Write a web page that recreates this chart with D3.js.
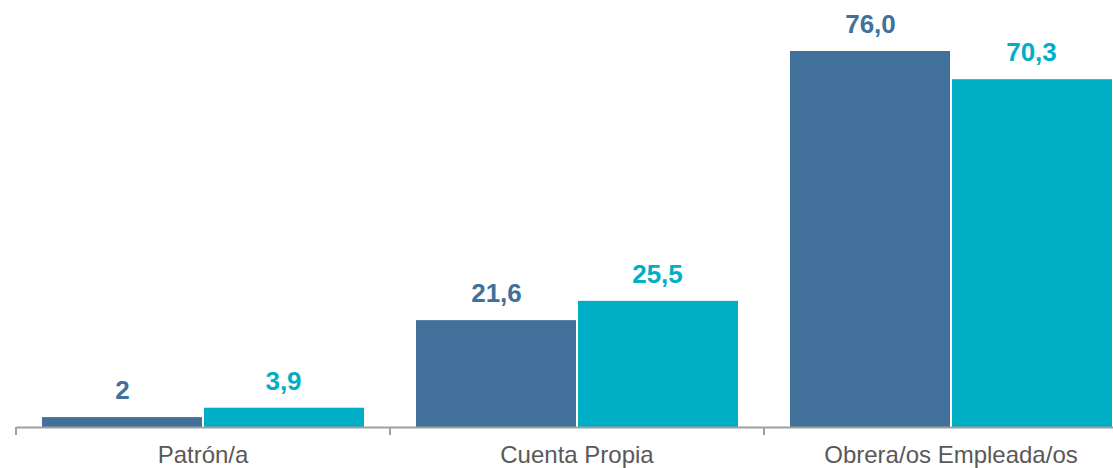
<!DOCTYPE html>
<html>
<head>
<meta charset="utf-8">
<script src="https://cdn.jsdelivr.net/npm/d3@7"></script>
<style>
  html, body { margin: 0; padding: 0; background: #fff; }
  svg { display: block; }
</style>
</head>
<body>
<svg id="chart" width="1113" height="468"></svg>
<script>
const categories = ["Patrón/a", "Cuenta Propia", "Obrera/os Empleada/os"];
const seriesNames = ["Serie A", "Serie B"];
const seriesA = [2, 21.6, 76.0];
const seriesB = [3.9, 25.5, 70.3];
const labelsA = ["2", "21,6", "76,0"];
const labelsB = ["3,9", "25,5", "70,3"];
const colors = ["#41719a", "#00afc6"];

const svg = d3.select("#chart");
const baseY = 427;
const pad = 52 / 374;

const x0 = d3.scaleBand()
  .domain(categories)
  .range([16, 16 + 374 * 3])
  .paddingInner(pad)
  .paddingOuter(pad / 2);

const x1 = d3.scaleBand()
  .domain(seriesNames)
  .range([0, x0.bandwidth()])
  .padding(0);

const y = d3.scaleLinear().domain([0, 76]).range([baseY, 51]);

const data = categories.map((c, i) => ({
  cat: c,
  vals: [
    { s: seriesNames[0], v: seriesA[i], lab: labelsA[i], col: colors[0] },
    { s: seriesNames[1], v: seriesB[i], lab: labelsB[i], col: colors[1] }
  ]
}));

const g = svg.append("g");
const groups = g.selectAll("g.grp").data(data).join("g")
  .attr("class", "grp")
  .attr("transform", d => `translate(${x0(d.cat)},0)`);

groups.selectAll("rect").data(d => d.vals).join("rect")
  .attr("x", d => x1(d.s) + (d.s === seriesNames[1] ? 1 : 0))
  .attr("width", x1.bandwidth() - 1)
  .attr("y", d => y(d.v))
  .attr("height", d => baseY - y(d.v))
  .attr("fill", d => d.col);

groups.selectAll("text").data(d => d.vals).join("text")
  .attr("x", d => x1(d.s) + x1.bandwidth() / 2)
  .attr("y", d => y(d.v) - 18)
  .attr("text-anchor", "middle")
  .attr("font-family", "'Liberation Sans', Arial, sans-serif")
  .attr("font-weight", "bold")
  .attr("font-size", "26px")
  .attr("fill", d => d.col)
  .text(d => d.lab);

// axis
const axis = d3.axisBottom(x0).tickSize(0).tickPadding(0);
const ax = svg.append("g").attr("transform", `translate(0,${baseY})`).call(axis);
ax.select(".domain").attr("stroke", "#a0a0a0").attr("stroke-width", 2);
ax.selectAll("text")
  .attr("y", 36)
  .attr("dy", null)
  .attr("font-family", "'Liberation Sans', Arial, sans-serif")
  .attr("font-size", "24px")
  .attr("fill", "#595959");

// boundary ticks
const step = x0.step();
const bounds = categories.map(c => x0(c) - step * pad / 2).concat([x0(categories[2]) + x0.bandwidth() + step * pad / 2]);
svg.append("g").selectAll("line").data(bounds).join("line")
  .attr("x1", d => d).attr("x2", d => d)
  .attr("y1", baseY).attr("y2", baseY + 8)
  .attr("stroke", "#a0a0a0").attr("stroke-width", 2);
</script>
</body>
</html>
